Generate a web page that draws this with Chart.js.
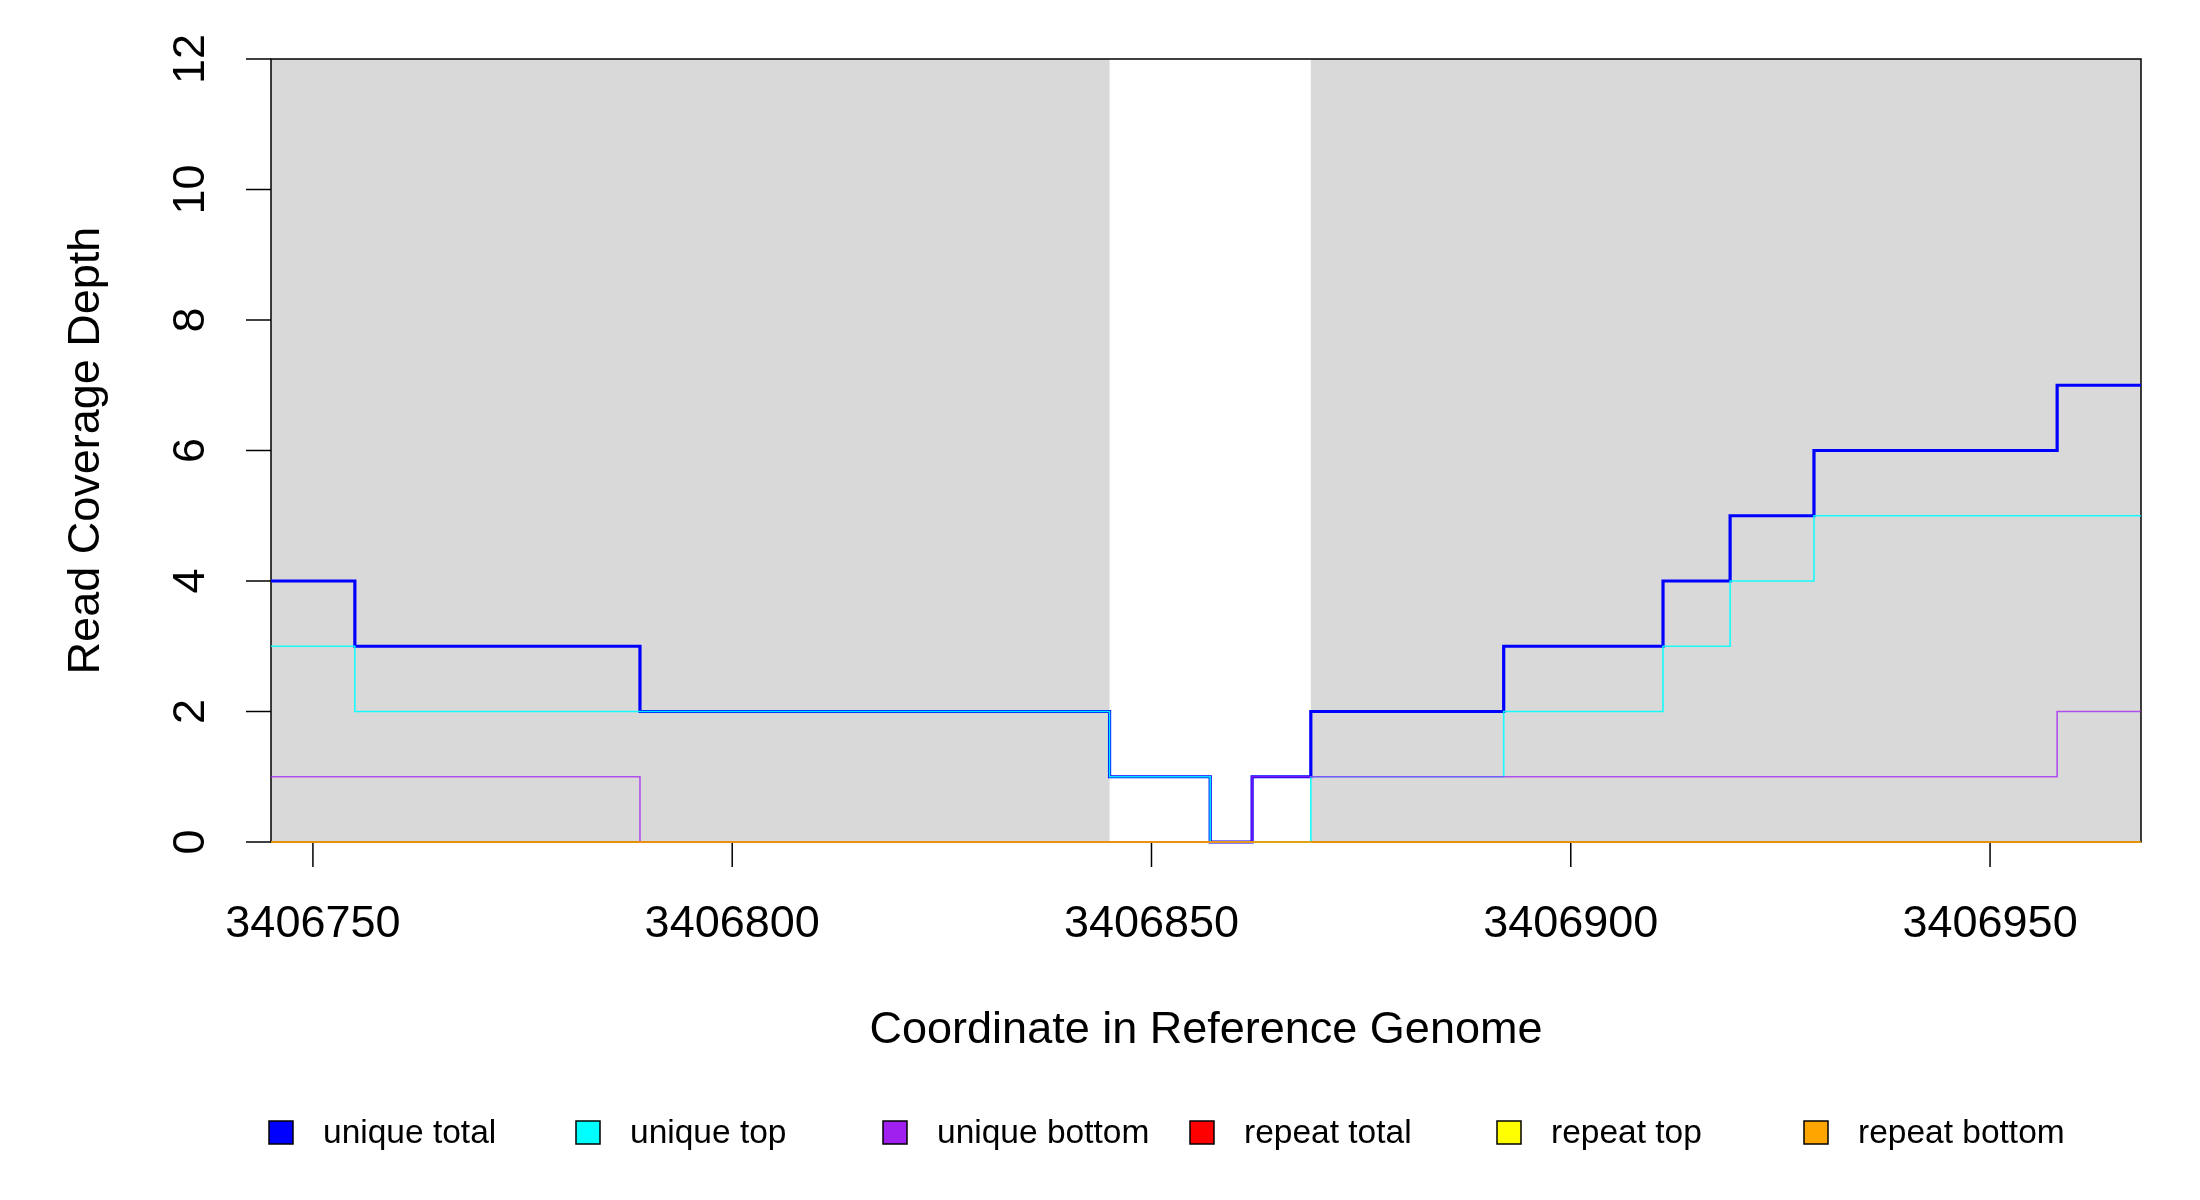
<!DOCTYPE html>
<html>
<head>
<meta charset="utf-8">
<script src="https://cdn.jsdelivr.net/npm/chart.js@4.4.0/dist/chart.umd.min.js"></script>
<style>
  html, body { margin: 0; padding: 0; background: #ffffff; }
  #coverageChart { display: block; }
</style>
</head>
<body>
<canvas id="coverageChart" width="2200" height="1200"></canvas>
<script>
// Step breakpoints (genome coordinates), one more than the segment values
const breakpoints = [3406745, 3406755, 3406789, 3406845, 3406857, 3406862, 3406869,
                     3406892, 3406911, 3406919, 3406929, 3406958, 3406968];

// Depth for each segment [breakpoints[i], breakpoints[i+1])
const uniqueTotal  = [4, 3, 2, 1, 0, 1, 2, 3, 4, 5, 6, 7];
const uniqueTop    = [3, 2, 2, 1, 0, 0, 1, 2, 3, 4, 5, 5];
const uniqueBottom = [1, 1, 0, 0, 0, 1, 1, 1, 1, 1, 1, 2];
const repeatTotal  = [0, 0, 0, 0, 0, 0, 0, 0, 0, 0, 0, 0];
const repeatTop    = [0, 0, 0, 0, 0, 0, 0, 0, 0, 0, 0, 0];
const repeatBottom = [0, 0, 0, 0, 0, 0, 0, 0, 0, 0, 0, 0];

// Shaded (grey) regions
const regionStart = [3406745, 3406869];
const regionEnd   = [3406845, 3406968];

// Axis ticks
const xTicks = [3406750, 3406800, 3406850, 3406900, 3406950];
const yTicks = [0, 2, 4, 6, 8, 10, 12];

const seriesNames = ['unique total', 'unique top', 'unique bottom', 'repeat total', 'repeat top', 'repeat bottom'];
const seriesColors = ['#0000ff', '#00ffff', '#a020f0', '#ff0000', '#ffff00', '#ffa500'];

const FONT = '"Liberation Sans", Arial, sans-serif';

function toSteps(values) {
    return breakpoints.map((x, i) => ({ x: x, y: values[Math.min(i, values.length - 1)] }));
}

/* --- plugin: grey regions, frame, R-style axes, legend --- */
const rStylePlugin = {
    id: 'rStyle',
    beforeDatasetsDraw(chart) {
        const { ctx, chartArea, scales } = chart;
        const { left, right, top, bottom } = chartArea;
        ctx.save();
        ctx.fillStyle = '#d9d9d9';
        for (let i = 0; i < regionStart.length; i++) {
            const x0 = scales.x.getPixelForValue(regionStart[i]);
            const x1 = scales.x.getPixelForValue(regionEnd[i]);
            ctx.fillRect(x0, top, x1 - x0, bottom - top);
        }
        // frame (lines are drawn over it)
        ctx.strokeStyle = '#000000';
        ctx.lineWidth = 1.5;
        ctx.strokeRect(left, top, right - left, bottom - top);
        ctx.restore();
    },
    afterDatasetsDraw(chart) {
        const { ctx, chartArea, scales } = chart;
        const { left, right, top, bottom } = chartArea;
        ctx.save();

        ctx.strokeStyle = '#000000';
        ctx.lineWidth = 1.5;

        // x axis ticks + labels
        ctx.fillStyle = '#000000';
        ctx.font = '45px ' + FONT;
        ctx.textAlign = 'center';
        ctx.textBaseline = 'middle';
        xTicks.forEach(v => {
            const px = scales.x.getPixelForValue(v);
            ctx.beginPath();
            ctx.moveTo(px, bottom + 1);
            ctx.lineTo(px, bottom + 25);
            ctx.stroke();
            ctx.fillText(String(v), px, 925);
        });

        // y axis ticks + rotated labels
        yTicks.forEach(v => {
            const py = scales.y.getPixelForValue(v);
            ctx.beginPath();
            ctx.moveTo(left, py);
            ctx.lineTo(left - 25, py);
            ctx.stroke();
            ctx.save();
            ctx.translate(192, py);
            ctx.rotate(-Math.PI / 2);
            ctx.fillText(String(v), 0, 0);
            ctx.restore();
        });

        // axis titles
        ctx.fillText('Coordinate in Reference Genome', (left + right) / 2, 1031);
        ctx.save();
        ctx.translate(87, (top + bottom) / 2);
        ctx.rotate(-Math.PI / 2);
        ctx.fillText('Read Coverage Depth', 0, 0);
        ctx.restore();

        // legend
        ctx.font = '33.5px ' + FONT;
        ctx.textAlign = 'left';
        seriesNames.forEach((name, i) => {
            const cx = 281 + 307 * i;
            ctx.fillStyle = seriesColors[i];
            ctx.fillRect(cx - 12, 1121, 24, 23);
            ctx.strokeStyle = '#000000';
            ctx.lineWidth = 1.5;
            ctx.strokeRect(cx - 12, 1121, 24, 23);
            ctx.fillStyle = '#000000';
            ctx.fillText(name, cx + 42, 1134);
        });

        ctx.restore();
    }
};

function makeDataset(label, values, color, width, order) {
    return {
        label: label,
        data: toSteps(values),
        stepped: 'before',
        borderColor: color,
        borderWidth: width,
        pointRadius: 0,
        fill: false,
        clip: 4,
        order: order
    };
}

new Chart(document.getElementById('coverageChart'), {
    type: 'line',
    data: {
        datasets: [
            makeDataset('unique total',  uniqueTotal,  '#0000ff', 3.2, 6),
            makeDataset('unique top',    uniqueTop,    'rgba(0,255,255,0.9)', 1.6, 5),
            makeDataset('unique bottom', uniqueBottom, 'rgba(160,32,240,0.75)', 1.6, 4),
            makeDataset('repeat total',  repeatTotal,  'rgba(255,0,0,0.6)', 1.6, 3),
            makeDataset('repeat top',    repeatTop,    'rgba(255,255,0,0.5)', 1.6, 2),
            makeDataset('repeat bottom', repeatBottom, 'rgba(255,165,0,0.8)', 1.6, 1)
        ]
    },
    options: {
        responsive: false,
        animation: false,
        devicePixelRatio: 1,
        layout: { padding: { left: 271, right: 59, top: 59, bottom: 358 } },
        scales: {
            x: { type: 'linear', min: 3406745, max: 3406968, display: false },
            y: { type: 'linear', min: 0, max: 12, display: false }
        },
        plugins: {
            legend: { display: false },
            tooltip: { enabled: false }
        }
    },
    plugins: [rStylePlugin]
});
</script>
</body>
</html>
